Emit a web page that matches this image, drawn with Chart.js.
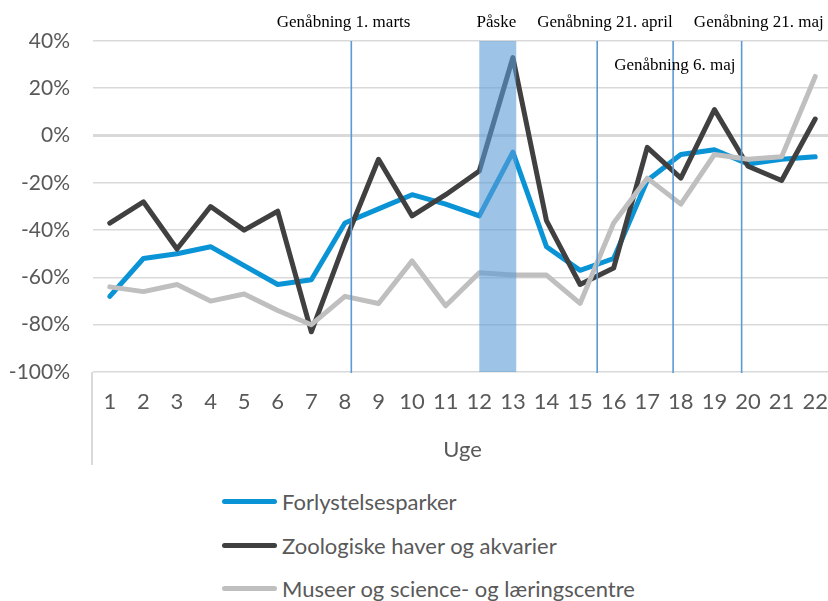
<!DOCTYPE html>
<html>
<head>
<meta charset="utf-8">
<script src="https://cdn.jsdelivr.net/npm/chart.js@4"></script>
<style>
  html, body { margin: 0; padding: 0; background: #fff; overflow: hidden; width: 828px; height: 601px; }
  #wrap { position: absolute; left: 0; top: 0; width: 834px; height: 470px; }
  #legend { position: absolute; left: 222px; top: 480px; font-family: Lato, "Liberation Sans", sans-serif; font-size: 22px; color: #595959; }
  .item { display: flex; align-items: center; height: 43.5px; }
  .sw { width: 55px; height: 5px; border-radius: 3px; margin-right: 5px; }
</style>
</head>
<body>
<div id="wrap"><canvas id="c" width="834" height="470"></canvas></div>
<div id="legend"></div>
<script>
// ---- data ----
const weeks = ['1','2','3','4','5','6','7','8','9','10','11','12','13','14','15','16','17','18','19','20','21','22'];
const seriesNames = ['Forlystelsesparker', 'Zoologiske haver og akvarier', 'Museer og science- og læringscentre'];
const forlystelsesparker = [-68, -52, -50, -47, -55, -63, -61, -37, -31, -25, -29, -34, -7, -47, -57, -52, -19, -8, -6, -12, -10, -9];
const zoologiske = [-37, -28, -48, -30, -40, -32, -83, -45, -10, -34, -25, -15, 33, -36, -63, -56, -5, -18, 11, -13, -19, 7];
const museer = [-64, -66, -63, -70, -67, -74, -80, -68, -71, -53, -72, -58, -59, -59, -71, -37, -18, -29, -8, -10, -9, 25];
const yTicks = [-100, -80, -60, -40, -20, 0, 20, 40];
// reopening lines (in week units)
const reopenWeeks = [8.19, 15.51, 17.77, 19.81];
// Easter period (in week units)
const easterSpan = [12.0, 13.1];
// annotation texts: [text, week position of centre, row]
const annotationTexts = [
  ['Genåbning 1. marts', 7.96, 0],
  ['Påske', 12.51, 0],
  ['Genåbning 21. april', 15.74, 0],
  ['Genåbning 21. maj', 20.32, 0],
  ['Genåbning 6. maj', 17.82, 1]
];
const colors = ['#0A94D6', '#404040', '#BFBFBF'];
const values = [forlystelsesparker, zoologiske, museer];

const SANS = 'Lato, "Liberation Sans", sans-serif';

const annotPlugin = {
  id: 'annot',
  afterDatasetsDraw(chart) {
    const {ctx, chartArea: a, scales: {x}} = chart;
    const wx = w => x.getPixelForValue(w - 1);
    ctx.save();
    // Easter band
    ctx.fillStyle = 'rgba(91,155,213,0.6)';
    const bx0 = wx(easterSpan[0]), bx1 = wx(easterSpan[1]);
    ctx.fillRect(bx0, a.top, bx1 - bx0, a.bottom - a.top);
    // lines
    ctx.strokeStyle = '#5B9BD5';
    ctx.lineWidth = 1.6;
    reopenWeeks.forEach(w => {
      const px = wx(w);
      ctx.beginPath();
      ctx.moveTo(px, a.top);
      ctx.lineTo(px, a.bottom + 1);
      ctx.stroke();
    });
    ctx.restore();
  },
  afterDraw(chart) {
    const {ctx, chartArea: a, scales: {x}} = chart;
    ctx.save();
    // axis label frame
    ctx.strokeStyle = '#D9D9D9';
    ctx.lineWidth = 2;
    ctx.beginPath();
    ctx.moveTo(a.left - 1, a.bottom);
    ctx.lineTo(a.left - 1, x.bottom - 5);
    ctx.stroke();
    // texts
    ctx.fillStyle = '#000';
    ctx.font = '17px "Liberation Serif", serif';
    ctx.textAlign = 'center';
    ctx.textBaseline = 'middle';
    annotationTexts.forEach(([t, w, row]) => {
      const px = x.getPixelForValue(w - 1);
      const py = row === 0 ? a.top - 18 : a.top + 25;
      ctx.fillText(t, px, py);
    });
    ctx.restore();
  }
};

new Chart(document.getElementById('c'), {
  type: 'line',
  data: {
    labels: weeks,
    datasets: values.map((v, i) => ({
      label: seriesNames[i],
      data: v,
      borderColor: colors[i],
      backgroundColor: colors[i],
      borderWidth: 5,
      pointRadius: 0,
      tension: 0,
      borderCapStyle: 'round',
      borderJoinStyle: 'round',
      order: 3 - i
    }))
  },
  options: {
    responsive: false,
    animation: false,
    layout: { padding: { top: 41, left: 0, right: 2, bottom: 0 } },
    plugins: { legend: { display: false }, tooltip: { enabled: false } },
    scales: {
      x: {
        offset: true,
        grid: { display: false, drawTicks: false },
        border: { display: false },
        ticks: { color: '#595959', font: { family: SANS, size: 22 }, padding: 17, maxRotation: 0, autoSkip: false },
        title: { display: true, text: 'Uge', color: '#595959', font: { family: SANS, size: 22 }, padding: { top: 0, bottom: 7 } },
        afterFit: s => { s.height = 98; s.paddingLeft = 0; s.paddingRight = 0; }
      },
      y: {
        min: -100, max: 40,
        afterBuildTicks: s => { s.ticks = yTicks.map(v => ({ value: v })); },
        grid: {
          drawTicks: false,
          color: '#D9D9D9',
          lineWidth: c => (c.tick && c.tick.value === 0 ? 3 : 1.6)
        },
        border: { display: false },
        ticks: { color: '#595959', font: { family: SANS, size: 21 }, padding: 23, callback: v => v + '%' },
        afterFit: s => { s.width = 93; }
      }
    }
  },
  plugins: [annotPlugin]
});

// HTML legend built from the series
const lg = document.getElementById('legend');
seriesNames.forEach((n, i) => {
  const d = document.createElement('div');
  d.className = 'item';
  const sw = document.createElement('span');
  sw.className = 'sw';
  sw.style.background = colors[i];
  const t = document.createElement('span');
  t.textContent = n;
  d.appendChild(sw); d.appendChild(t);
  lg.appendChild(d);
});
</script>
</body>
</html>
